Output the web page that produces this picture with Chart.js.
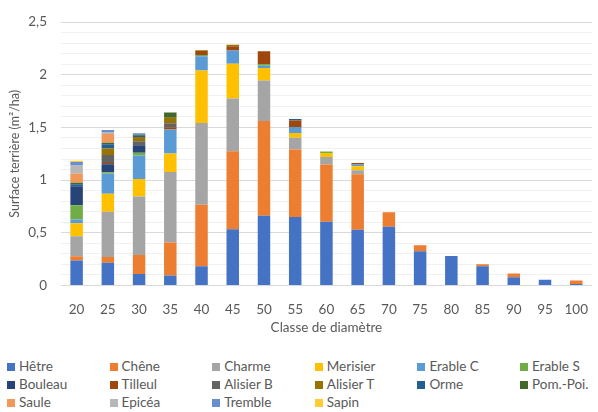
<!DOCTYPE html>
<html>
<head>
<meta charset="utf-8">
<script src="https://cdn.jsdelivr.net/npm/chart.js@4"></script>
<style>
  html, body { margin: 0; padding: 0; background: #fff; overflow: hidden; }
  #wrap { position: relative; width: 604px; height: 339px; }
  #legend { position: absolute; left: 0; top: 357px; width: 640px; font-family: Lato, sans-serif; font-size: 13.5px; color: #595959; }
  .item { position: absolute; white-space: nowrap; line-height: 18px; }
  .box { display: inline-block; width: 8px; height: 8px; margin-right: 4px; vertical-align: 0px; }
</style>
</head>
<body>
<div id="wrap"><canvas id="c" width="604" height="339"></canvas></div>
<div id="legend"></div>
<script>
// Diameter classes (cm)
const classes = ['20','25','30','35','40','45','50','55','60','65','70','75','80','85','90','95','100'];

// Basal area per species and diameter class (m²/ha)
const hetre     = [0.238, 0.217, 0.110, 0.094, 0.183, 0.533, 0.662, 0.650, 0.604, 0.530, 0.558, 0.325, 0.281, 0.183, 0.078, 0.054, 0.014];
const chene     = [0.040, 0.053, 0.180, 0.314, 0.584, 0.742, 0.899, 0.640, 0.545, 0.526, 0.138, 0.058, 0, 0.018, 0.037, 0, 0.034];
const charme    = [0.190, 0.430, 0.555, 0.670, 0.775, 0.501, 0.384, 0.113, 0.071, 0.037, 0, 0, 0, 0, 0, 0, 0];
const merisier  = [0.123, 0.170, 0.165, 0.176, 0.498, 0.329, 0.120, 0.044, 0.037, 0.040, 0, 0, 0, 0, 0, 0, 0];
const erableC   = [0.035, 0.190, 0.225, 0.227, 0.135, 0.126, 0.020, 0.058, 0, 0.015, 0, 0, 0, 0, 0, 0, 0];
const erableS   = [0.135, 0.016, 0.025, 0, 0.013, 0, 0.018, 0, 0.015, 0, 0, 0, 0, 0, 0, 0, 0];
const bouleau   = [0.180, 0.074, 0.070, 0, 0, 0, 0, 0, 0, 0, 0, 0, 0, 0, 0, 0, 0];
const tilleul   = [0, 0.012, 0, 0.022, 0.037, 0.040, 0.120, 0.062, 0, 0.015, 0, 0, 0, 0, 0, 0, 0];
const alisierB  = [0, 0.077, 0.040, 0.037, 0, 0, 0, 0, 0, 0, 0, 0, 0, 0, 0, 0, 0];
const alisierT  = [0, 0.062, 0.040, 0.052, 0.008, 0.015, 0, 0, 0, 0, 0, 0, 0, 0, 0, 0, 0];
const orme      = [0.020, 0.040, 0.015, 0, 0, 0, 0, 0.013, 0, 0, 0, 0, 0, 0, 0, 0, 0];
const pomPoi    = [0.015, 0.015, 0.008, 0.050, 0, 0, 0, 0, 0, 0, 0, 0, 0, 0, 0, 0, 0];
const saule     = [0.085, 0.083, 0, 0, 0, 0, 0, 0, 0, 0, 0, 0, 0, 0, 0, 0, 0];
const epicea    = [0.077, 0.018, 0, 0, 0, 0, 0, 0, 0, 0, 0, 0, 0, 0, 0, 0, 0];
const tremble   = [0.034, 0.018, 0.012, 0, 0, 0, 0, 0, 0, 0, 0, 0, 0, 0, 0, 0, 0];
const sapin     = [0.012, 0, 0, 0, 0, 0, 0, 0, 0, 0, 0, 0, 0, 0, 0, 0, 0];

const speciesNames = ['Hêtre','Chêne','Charme','Merisier','Erable C','Erable S','Bouleau','Tilleul',
                      'Alisier B','Alisier T','Orme','Pom.-Poi.','Saule','Epicéa','Tremble','Sapin'];
const speciesValues = [hetre, chene, charme, merisier, erableC, erableS, bouleau, tilleul,
                       alisierB, alisierT, orme, pomPoi, saule, epicea, tremble, sapin];
const speciesColors = ['#4472C4','#ED7D31','#A5A5A5','#FFC000','#5B9BD5','#70AD47','#264478','#9E480E',
                       '#636363','#997300','#255E91','#43682B','#F1975A','#B7B7B7','#698ED0','#FFCD33'];

const FONT = 'Lato, sans-serif';
const TEXT = '#595959';

const datasets = speciesNames.map((name, i) => ({
  label: name,
  data: speciesValues[i],
  backgroundColor: speciesColors[i],
  borderWidth: 0,
  barPercentage: 0.4,
  categoryPercentage: 1.0
}));

const chart = new Chart(document.getElementById('c'), {
  type: 'bar',
  data: { labels: classes, datasets },
  options: {
    responsive: false,
    animation: false,
    layout: { padding: { top: 14, right: 0, left: 0, bottom: 0 } },
    plugins: { legend: { display: false }, tooltip: { enabled: false } },
    scales: {
      x: {
        stacked: true,
        grid: { display: false, drawTicks: false },
        border: { color: '#d9d9d9' },
        ticks: { color: TEXT, font: { family: FONT, size: 13.5 }, padding: 16, maxRotation: 0, autoSkip: false },
        title: { display: true, text: 'Classe de diamètre', color: TEXT, font: { family: FONT, size: 13.5 }, padding: { top: 4, bottom: 3 } },
        afterFit: (s) => { s.height = 53.5; }
      },
      y: {
        stacked: true,
        min: 0,
        max: 2.5,
        border: { display: false },
        grid: {
          drawTicks: false,
          color: (ctx) => (Math.round(ctx.tick.value * 10) % 5 === 0 ? '#d9d9d9' : '#f0f0f0')
        },
        ticks: {
          stepSize: 0.1,
          autoSkip: false,
          padding: 14,
          color: TEXT,
          font: { family: FONT, size: 13.5 },
          callback: (v) => {
            const t = Math.round(v * 10);
            if (t % 5 !== 0) return '';
            return (t / 10).toString().replace('.', ',');
          }
        },
        title: { display: true, text: 'Surface terrière (m²/ha)', color: TEXT, font: { family: FONT, size: 12.5 }, padding: { top: 7, bottom: 4 } },
        afterFit: (s) => { s.width = 61; }
      }
    }
  }
});

// Legend laid out in six fixed columns
const legend = document.getElementById('legend');
chart.data.datasets.forEach((ds, i) => {
  const col = i % 6, row = Math.floor(i / 6);
  const item = document.createElement('div');
  item.className = 'item';
  item.style.left = (7 + col * 102.6) + 'px';
  item.style.top = (row * 18) + 'px';
  const box = document.createElement('span');
  box.className = 'box';
  box.style.background = ds.backgroundColor;
  item.appendChild(box);
  item.appendChild(document.createTextNode(ds.label));
  legend.appendChild(item);
});
</script>
</body>
</html>
